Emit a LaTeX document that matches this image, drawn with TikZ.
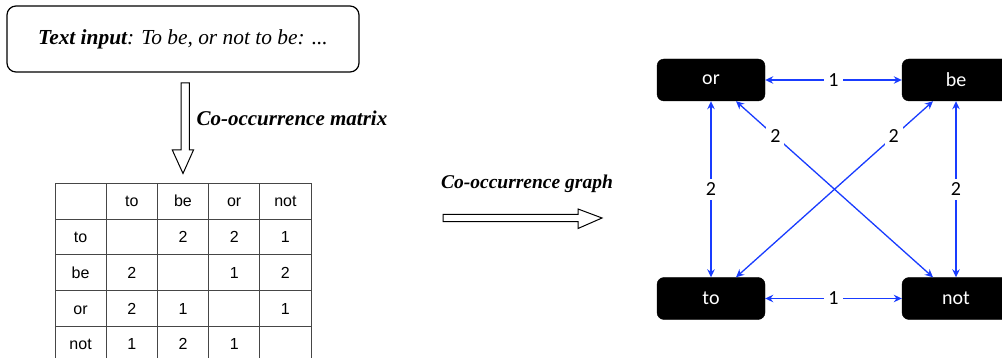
\documentclass[tikz,border=0pt]{standalone}
\usepackage{fontspec}
\setmainfont{Liberation Serif}
\newfontfamily\helv{Liberation Sans}
\newfontfamily\cali{Carlito}
\usetikzlibrary{arrows.meta,matrix}
\definecolor{edgeblue}{RGB}{25,60,255}
\definecolor{tablegray}{RGB}{70,70,70}
\begin{document}
\begin{tikzpicture}[x=1pt,y=-1pt,
  wordbox/.style={fill=black, draw=black, rounded corners=7pt, minimum width=108pt, minimum height=42pt, text=white, font=\cali\fontsize{20}{24}\selectfont, inner sep=0pt},
  link/.style={draw=edgeblue, line width=1.3pt, {Stealth[length=8pt,width=7.5pt]}-{Stealth[length=8pt,width=7.5pt]}},
  weight/.style={fill=white, font=\cali\fontsize{20}{24}\selectfont, inner sep=4pt, text=black},
  hollow/.style={draw=black, line width=1pt, fill=white, line join=miter},
  caption/.style={font=\fontsize{#1}{24}\selectfont\bfseries\itshape}
]
\useasboundingbox (0,0) rectangle (1002,358);
\clip (0,0) rectangle (1002,358);

% text input box
\node[draw, line width=1.2pt, rounded corners=9pt, minimum width=352pt, minimum height=66pt,
      font=\fontsize{21.4}{25}\selectfont\itshape] (input) at (183,39)
      {\textbf{Text input}: To be, or not to be: ...};

% hollow down arrow
\draw[hollow] (181,83) -- (189.3,83) -- (189.3,150) -- (193.5,150) -- (183,173.5)
      -- (172.3,150) -- (181,150) -- cycle;
\node[caption=21, anchor=west] (capm) at (193,118) {Co-occurrence matrix};

% matrix
\matrix (tab) [matrix of nodes, nodes in empty cells, anchor=north west,
   inner sep=0pt, outer sep=0pt,
   column sep=-0.8pt, row sep=-0.8pt,
   nodes={draw=tablegray, line width=0.8pt, minimum width=51.2pt, minimum height=35.7pt,
          inner sep=0pt, text height=11.5pt, text depth=0pt, anchor=center,
          font=\helv\fontsize{16}{19}\selectfont}] at (54.6,182.9) {
      & to & be & or & not \\
  to  &    & 2  & 2  & 1   \\
  be  & 2  &    & 1  & 2   \\
  or  & 2  & 1  &    & 1   \\
  not & 1  & 2  & 1  &     \\
};

% hollow right arrow
\draw[hollow] (443,214.3) -- (578,214.3) -- (578,209) -- (602,218) -- (578,228.5)
      -- (578,221.7) -- (443,221.7) -- cycle;
\node[caption=19.5] (capg) at (527,184) {Co-occurrence graph};

% graph
\node[wordbox] (or)  at (711,80)    {or};
\node[wordbox] (be)  at (956,80)    {be};
\node[wordbox] (to)  at (711,298.5) {to};
\node[wordbox] (not) at (956,298.5) {not};

\draw[link] (or) -- node[weight]{1} (be);
\draw[link] (to) -- node[weight]{1} (not);
\draw[link] (or) -- node[weight]{2} (to);
\draw[link] (be) -- node[weight]{2} (not);
\draw[link] ([xshift=25pt]or.south) -- node[weight,pos=0.2]{2} ([xshift=-23pt]not.north);
\draw[link] ([xshift=-23pt]be.south) -- node[weight,pos=0.2]{2} ([xshift=25pt]to.north);
\end{tikzpicture}
\end{document}
